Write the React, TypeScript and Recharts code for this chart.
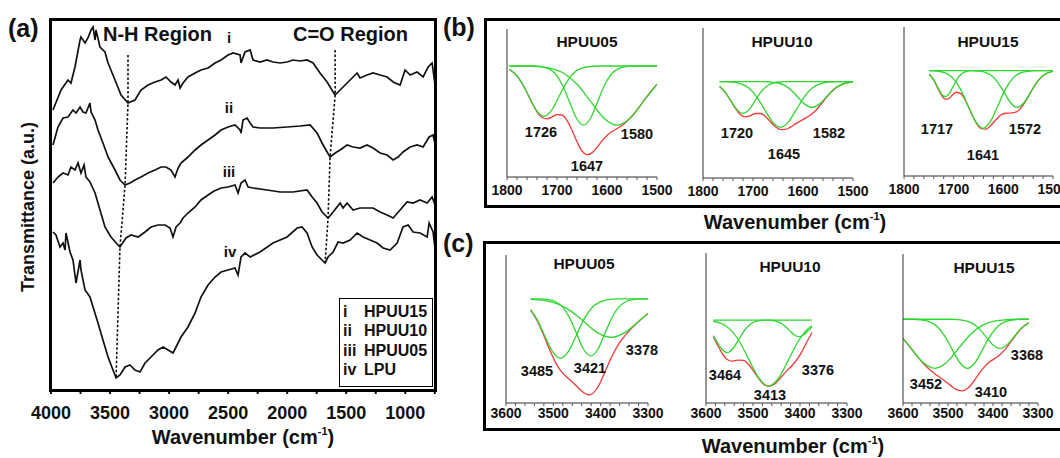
import { Line, LineChart, XAxis, YAxis } from 'recharts';

const FONT = "'Liberation Sans', Arial, Helvetica, sans-serif";
const INK = '#111';
const FIT_RED = '#ee3a3a';
const FIT_GREEN = '#30d630';

type Pt = [number, number];

// (a) FTIR spectra: [wavenumber cm-1, transmittance a.u. (stacked offsets)]
const SPEC_HPUU15: Pt[] = [
  [3983, 279], [3915, 299], [3856, 309], [3831, 306], [3797, 322], [3754, 349], [3746, 352],
  [3712, 346], [3687, 351], [3661, 359], [3644, 362], [3627, 349], [3619, 359], [3585, 342],
  [3543, 337], [3517, 326], [3458, 309], [3407, 294], [3348, 286], [3289, 289], [3238, 299],
  [3178, 304], [3119, 307], [3068, 309], [3026, 312], [2984, 307], [2950, 304], [2924, 309],
  [2907, 301], [2882, 306], [2840, 312], [2780, 316], [2730, 319], [2670, 321], [2611, 326],
  [2560, 329], [2501, 334], [2458, 336], [2399, 334], [2391, 326], [2357, 337], [2314, 339],
  [2289, 329], [2230, 327], [2171, 329], [2120, 327], [2060, 326], [2001, 327], [1950, 329],
  [1891, 328], [1832, 329], [1781, 326], [1722, 316], [1662, 307], [1611, 297], [1594, 294],
  [1552, 299], [1493, 306], [1442, 312], [1408, 316], [1383, 311], [1324, 314], [1273, 316],
  [1213, 314], [1154, 312], [1103, 307], [1044, 304], [1002, 319], [959, 314], [900, 317],
  [849, 312], [807, 322], [773, 326], [748, 304],
];

const SPEC_HPUU10: Pt[] = [
  [3983, 244], [3941, 262], [3898, 271], [3856, 272], [3814, 279], [3788, 276], [3754, 282],
  [3729, 277], [3704, 276], [3670, 286], [3661, 277], [3627, 269], [3602, 259], [3560, 246],
  [3517, 232], [3458, 219], [3416, 209], [3373, 204], [3331, 206], [3289, 209], [3238, 212],
  [3178, 216], [3119, 219], [3068, 222], [3026, 222], [2984, 219], [2950, 212], [2924, 221],
  [2899, 226], [2840, 232], [2780, 239], [2730, 244], [2670, 249], [2611, 254], [2560, 259],
  [2501, 262], [2442, 264], [2399, 259], [2391, 256], [2374, 269], [2340, 271], [2314, 266],
  [2289, 262], [2230, 261], [2120, 261], [2001, 262], [1891, 263], [1806, 264], [1747, 256],
  [1705, 246], [1662, 237], [1637, 232], [1594, 236], [1552, 239], [1493, 244], [1442, 242],
  [1383, 241], [1324, 244], [1273, 241], [1213, 236], [1154, 234], [1103, 229], [1061, 232],
  [1019, 237], [959, 242], [900, 244], [849, 242], [798, 252], [765, 254], [742, 242],
];

const SPEC_HPUU05: Pt[] = [
  [3983, 206], [3941, 212], [3898, 216], [3856, 214], [3831, 222], [3797, 219], [3771, 226],
  [3746, 216], [3720, 224], [3704, 212], [3670, 207], [3627, 196], [3585, 179], [3543, 162],
  [3492, 152], [3433, 144], [3416, 142], [3365, 151], [3322, 154], [3263, 152], [3204, 157],
  [3153, 162], [3094, 164], [3034, 164], [2992, 161], [2967, 152], [2941, 162], [2907, 166],
  [2882, 171], [2840, 176], [2780, 182], [2730, 189], [2670, 194], [2619, 198], [2560, 201],
  [2501, 202], [2442, 204], [2416, 196], [2391, 206], [2357, 209], [2331, 202], [2289, 201],
  [2171, 199], [2060, 197], [1950, 197], [1832, 199], [1789, 192], [1747, 186], [1705, 177],
  [1654, 171], [1611, 177], [1552, 186], [1527, 181], [1493, 186], [1442, 179], [1383, 181],
  [1324, 181], [1273, 181], [1213, 177], [1154, 174], [1103, 171], [1044, 179], [985, 187],
  [934, 186], [875, 189], [815, 186], [773, 192], [748, 184],
];

const SPEC_LPU: Pt[] = [
  [3983, 157], [3958, 154], [3924, 142], [3898, 146], [3881, 139], [3873, 156], [3839, 137],
  [3814, 129], [3788, 106], [3754, 129], [3746, 119], [3712, 99], [3670, 92], [3644, 82],
  [3602, 66], [3560, 49], [3517, 32], [3475, 19], [3449, 11], [3416, 14], [3373, 22],
  [3331, 24], [3289, 19], [3246, 17], [3204, 26], [3153, 32], [3094, 39], [3051, 42],
  [3009, 39], [2967, 36], [2941, 42], [2899, 52], [2840, 62], [2780, 76], [2730, 92],
  [2670, 104], [2611, 112], [2560, 117], [2501, 119], [2442, 121], [2416, 114], [2391, 132],
  [2357, 136], [2314, 132], [2230, 137], [2120, 146], [2001, 152], [1916, 161], [1874, 162],
  [1832, 156], [1789, 142], [1747, 134], [1705, 129], [1679, 126], [1654, 132], [1611, 137],
  [1569, 147], [1527, 146], [1467, 149], [1408, 156], [1357, 152], [1298, 149], [1239, 146],
  [1188, 141], [1129, 139], [1069, 146], [1019, 162], [976, 164], [934, 157], [875, 156],
  [815, 152], [798, 166], [765, 157], [742, 134],
];

// dotted guides through the N-H and C=O minima
const NH_GUIDE: Pt[] = [[3348, 334], [3348, 286], [3373, 204], [3416, 142], [3449, 11]];
const CO_GUIDE: Pt[] = [[1594, 339], [1594, 294], [1637, 232], [1654, 171], [1679, 126]];

const A_TICKS = [4000, 3750, 3500, 3250, 3000, 2750, 2500, 2250, 2000, 1750, 1500, 1250, 1000, 750];

// (b) C=O region deconvolution: summed fit + component bands
const CO_05_PEAKS = [1726, 1647, 1580];
const CO_05_SUM: Pt[] = [
  [1795, 72.6], [1780, 68.3], [1765, 60.3], [1750, 50.1], [1740, 44.0], [1730, 40.2], [1720, 39.3],
  [1710, 40.6], [1700, 42.2], [1690, 41.9], [1680, 38.2], [1670, 31.6], [1660, 23.8], [1650, 17.6],
  [1640, 15.1], [1630, 16.3], [1620, 20.0], [1610, 24.4], [1600, 28.1], [1590, 30.7], [1580, 32.7],
  [1570, 34.8], [1560, 37.6], [1545, 43.1], [1530, 49.8], [1515, 56.7], [1500, 62.7],
];
const CO_05_1726: Pt[] = [
  [1795, 72.6], [1786, 70.4], [1771, 64.0], [1756, 54.4], [1741, 45.0], [1726, 41.0], [1711, 45.0],
  [1696, 54.4], [1681, 64.0], [1666, 70.4], [1651, 73.5], [1636, 74.6], [1621, 75], [1500, 75],
];
const CO_05_1647: Pt[] = [
  [1795, 75], [1745, 75], [1731, 74.6], [1717, 73.2], [1703, 69.6], [1689, 62.0], [1675, 50.7],
  [1661, 39.7], [1647, 35.0], [1633, 39.7], [1619, 50.7], [1605, 62.0], [1591, 69.6], [1577, 73.2],
  [1563, 74.6], [1549, 75], [1500, 75],
];
const CO_05_1580: Pt[] = [
  [1795, 75], [1762, 75], [1736, 74.6], [1710, 73.2], [1684, 69.6], [1658, 62.0], [1632, 50.7],
  [1606, 39.7], [1580, 35.0], [1554, 39.7], [1528, 50.7], [1500, 62.7],
];

const CO_10_PEAKS = [1720, 1645, 1582];
const CO_10_SUM: Pt[] = [
  [1767, 61.1], [1755, 56.8], [1745, 51.7], [1735, 46.3], [1725, 42.2], [1715, 40.8], [1705, 41.6],
  [1695, 43.0], [1685, 43.0], [1675, 40.9], [1665, 37.5], [1655, 34.1], [1645, 32.3], [1635, 32.4],
  [1625, 33.9], [1615, 36.1], [1605, 38.1], [1595, 39.9], [1585, 42.0], [1575, 44.8], [1565, 48.7],
  [1555, 52.9], [1545, 56.8], [1530, 61.1], [1515, 63.2], [1500, 64.0],
];
const CO_10_1720: Pt[] = [
  [1767, 61.1], [1756, 57.4], [1744, 51.4], [1732, 45.6], [1720, 43.1], [1708, 45.6], [1696, 51.4],
  [1684, 57.4], [1672, 61.4], [1660, 63.3], [1648, 64.0], [1636, 64.2], [1500, 64.2],
];
const CO_10_1645: Pt[] = [
  [1767, 64.2], [1757, 64.2], [1741, 63.9], [1725, 62.9], [1709, 60.1], [1693, 54.3], [1677, 45.8],
  [1661, 37.4], [1645, 33.8], [1629, 37.4], [1613, 45.8], [1597, 54.3], [1581, 60.1], [1565, 62.9],
  [1549, 63.9], [1533, 64.2], [1500, 64.2],
];
const CO_10_1582: Pt[] = [
  [1767, 64.2], [1680, 64.2], [1666, 64.0], [1652, 63.5], [1638, 61.9], [1624, 58.7], [1610, 53.8],
  [1596, 49.1], [1582, 47.1], [1568, 49.1], [1554, 53.8], [1540, 58.7], [1526, 61.9], [1512, 63.5],
  [1500, 64.0],
];

const CO_15_PEAKS = [1717, 1641, 1572];
const CO_15_SUM: Pt[] = [
  [1749, 68.3], [1740, 64.3], [1732, 59.0], [1725, 54.5], [1717, 51.6], [1710, 52.0], [1703, 54.2],
  [1695, 56.2], [1685, 55.1], [1675, 49.7], [1665, 42.5], [1655, 35.8], [1645, 31.9], [1635, 31.5],
  [1625, 34.0], [1615, 37.8], [1605, 40.9], [1595, 42.1], [1585, 42.2], [1575, 42.8], [1565, 45.4],
  [1555, 50.2], [1545, 56.1], [1530, 64.0], [1515, 68.5], [1500, 70.2],
];
const CO_15_1717: Pt[] = [
  [1749, 68.3], [1741, 65.0], [1733, 60.1], [1725, 55.3], [1717, 53.2], [1709, 55.3], [1701, 60.1],
  [1693, 65.0], [1685, 68.3], [1677, 69.9], [1669, 70.5], [1661, 70.7], [1500, 70.7],
];
const CO_15_1641: Pt[] = [
  [1749, 70.7], [1731, 70.3], [1716, 69.0], [1701, 65.5], [1686, 58.1], [1671, 47.2], [1656, 36.6],
  [1641, 32.0], [1626, 36.6], [1611, 47.2], [1596, 58.1], [1581, 65.5], [1566, 69.0], [1551, 70.3],
  [1536, 70.7], [1500, 70.7],
];
const CO_15_1572: Pt[] = [
  [1749, 70.7], [1663, 70.7], [1650, 70.4], [1637, 69.6], [1624, 67.4], [1611, 62.7], [1598, 55.8],
  [1585, 49.0], [1572, 46.1], [1559, 49.0], [1546, 55.8], [1533, 62.7], [1520, 67.4], [1507, 69.6],
  [1500, 70.2],
];

// (c) N-H region deconvolution
const NH_05_PEAKS = [3485, 3421, 3378];
const NH_05_SUM: Pt[] = [
  [3548, 62.8], [3535, 56.2], [3520, 45.5], [3505, 33.9], [3495, 27.1], [3485, 22.1], [3475, 18.5],
  [3465, 15.7], [3455, 12.7], [3445, 9.5], [3435, 6.8], [3425, 5.4], [3415, 7.0], [3405, 11.3],
  [3395, 18.0], [3385, 25.4], [3375, 32.3], [3360, 40.8], [3345, 46.9], [3330, 52.0], [3315, 56.4],
  [3300, 60.5],
];
const NH_05_3485: Pt[] = [
  [3548, 63.1], [3536, 57.3], [3519, 46.0], [3502, 34.9], [3485, 30.2], [3468, 34.9], [3451, 46.0],
  [3434, 57.3], [3417, 64.9], [3400, 68.5], [3383, 69.9], [3366, 70.3], [3300, 70.3],
];
const NH_05_3421: Pt[] = [
  [3548, 70.3], [3526, 70.3], [3511, 69.9], [3496, 68.6], [3481, 65.1], [3466, 57.8], [3451, 47.0],
  [3436, 36.3], [3421, 31.8], [3406, 36.3], [3391, 47.0], [3376, 57.8], [3361, 65.1], [3346, 68.6],
  [3331, 69.9], [3316, 70.3], [3300, 70.3],
];
const NH_05_3378: Pt[] = [
  [3548, 70.0], [3518, 69.2], [3490, 66.8], [3462, 61.9], [3434, 54.6], [3406, 47.4], [3378, 44.4],
  [3350, 47.4], [3322, 54.6], [3300, 60.5],
];

const NH_10_PEAKS = [3464, 3413, 3376];
const NH_10_SUM: Pt[] = [
  [3481, 44.1], [3475, 37.8], [3469, 32.0], [3464, 29.0], [3458, 27.9], [3451, 28.6], [3444, 28.4],
  [3437, 25.2], [3430, 20.0], [3423, 14.7], [3418, 12.1], [3413, 11.2], [3408, 11.9], [3402, 14.6],
  [3396, 18.3], [3390, 21.9], [3384, 25.2], [3378, 29.2], [3372, 34.6], [3366, 41.0], [3360, 46.9],
];
const NH_10_3464: Pt[] = [
  [3481, 44.9], [3478, 42.1], [3471, 36.2], [3464, 33.6], [3457, 36.2], [3450, 42.1], [3443, 48.3],
  [3436, 52.4], [3429, 54.4], [3422, 55.1], [3415, 55.3], [3360, 55.3],
];
const NH_10_3413: Pt[] = [
  [3481, 54.5], [3473, 53.4], [3461, 49.4], [3449, 41.0], [3437, 28.6], [3425, 16.5], [3413, 11.3],
  [3401, 16.5], [3389, 28.6], [3377, 41.0], [3365, 49.4], [3360, 51.5],
];
const NH_10_3376: Pt[] = [
  [3481, 55.3], [3418, 55.3], [3412, 55.2], [3406, 54.8], [3400, 53.8], [3394, 51.7], [3388, 48.6],
  [3382, 45.5], [3376, 44.2], [3370, 45.5], [3364, 48.6], [3360, 50.7],
];

const NH_15_PEAKS = [3452, 3410, 3368];
const NH_15_SUM: Pt[] = [
  [3493, 43.3], [3485, 38.2], [3477, 32.8], [3469, 27.8], [3461, 23.5], [3452, 19.7], [3445, 17.1],
  [3438, 14.3], [3431, 11.5], [3424, 9.0], [3417, 8.1], [3410, 9.7], [3403, 13.6], [3396, 18.9],
  [3389, 23.7], [3382, 27.3], [3375, 29.8], [3368, 32.4], [3360, 36.8], [3352, 42.5], [3344, 48.0],
  [3337, 51.7], [3331, 53.8],
];
const NH_15_3452: Pt[] = [
  [3493, 43.3], [3482, 36.3], [3467, 27.2], [3452, 23.3], [3437, 27.2], [3422, 36.3], [3407, 45.5],
  [3392, 51.8], [3377, 54.8], [3362, 55.8], [3347, 56.2], [3331, 56.2],
];
const NH_15_3410: Pt[] = [
  [3493, 56.2], [3480, 56.2], [3470, 55.8], [3460, 54.8], [3450, 51.8], [3440, 45.5], [3430, 36.3],
  [3420, 27.2], [3410, 23.3], [3400, 27.2], [3390, 36.3], [3380, 45.5], [3370, 51.8], [3360, 54.8],
  [3350, 55.8], [3340, 56.2], [3331, 56.2],
];
const NH_15_3368: Pt[] = [
  [3493, 56.2], [3431, 56.2], [3422, 56.0], [3413, 55.3], [3404, 53.6], [3395, 49.9], [3386, 44.4],
  [3377, 39.0], [3368, 36.7], [3359, 39.0], [3350, 44.4], [3341, 49.9], [3331, 53.8],
];

const CO_TICKS = [1800, 1780, 1760, 1740, 1720, 1700, 1680, 1660, 1640, 1620, 1600, 1580, 1560, 1540, 1520, 1500];
const NH_TICKS = [3600, 3580, 3560, 3540, 3520, 3500, 3480, 3460, 3440, 3420, 3400, 3380, 3360, 3340, 3320, 3300];
const FIT_Y_TICKS = [0, 16.67, 33.33, 50, 66.67, 83.33, 100];

const rows = (pts: Pt[]) => pts.map(([w, v]) => ({ w, v }));

interface FitSpec {
  title: string;
  box: [number, number, number, number]; // plot area x, y, w, h
  tickDomain: [number, number];
  fitDomain?: [number, number]; // the insets were fitted on their own wavenumber window
  ticks: number[];
  tickMargin: number;
  sum: Pt[];
  parts: Pt[][];
  peaks: number[];
  titlePos: [number, number];
  peakPos: [number, number][];
}

const FIT_PANELS: FitSpec[] = [
  {
    title: 'HPUU05', box: [507, 29, 150, 148], tickDomain: [1500, 1800], ticks: CO_TICKS, tickMargin: 5,
    sum: CO_05_SUM, parts: [CO_05_1726, CO_05_1647, CO_05_1580], peaks: CO_05_PEAKS,
    titlePos: [587, 47], peakPos: [[541, 137], [587, 171], [637, 139]],
  },
  {
    title: 'HPUU10', box: [703, 28, 150, 150], tickDomain: [1500, 1800], ticks: CO_TICKS, tickMargin: 5,
    sum: CO_10_SUM, parts: [CO_10_1720, CO_10_1645, CO_10_1582], peaks: CO_10_PEAKS,
    titlePos: [782, 47], peakPos: [[737, 138], [784, 159], [829, 138]],
  },
  {
    title: 'HPUU15', box: [904, 27, 149, 149], tickDomain: [1500, 1800], ticks: CO_TICKS, tickMargin: 5,
    sum: CO_15_SUM, parts: [CO_15_1717, CO_15_1641, CO_15_1572], peaks: CO_15_PEAKS,
    titlePos: [988, 47], peakPos: [[937, 134], [983, 160], [1025, 134]],
  },
  {
    title: 'HPUU05', box: [506, 255, 142, 148], tickDomain: [3300, 3600], ticks: NH_TICKS, tickMargin: 2,
    sum: NH_05_SUM, parts: [NH_05_3485, NH_05_3421, NH_05_3378], peaks: NH_05_PEAKS,
    titlePos: [584, 269], peakPos: [[537, 376], [590, 373], [642, 355]],
  },
  {
    title: 'HPUU10', box: [706, 253, 141, 150], tickDomain: [3300, 3600], fitDomain: [3317, 3490], ticks: NH_TICKS, tickMargin: 2,
    sum: NH_10_SUM, parts: [NH_10_3464, NH_10_3413, NH_10_3376], peaks: NH_10_PEAKS,
    titlePos: [790, 272], peakPos: [[725, 380], [770, 400], [818, 375]],
  },
  {
    title: 'HPUU15', box: [903, 254, 135, 149], tickDomain: [3300, 3600], fitDomain: [3319, 3493], ticks: NH_TICKS, tickMargin: 2,
    sum: NH_15_SUM, parts: [NH_15_3452, NH_15_3410, NH_15_3368], peaks: NH_15_PEAKS,
    titlePos: [984, 273], peakPos: [[926, 389], [991, 397], [1027, 360]],
  },
];

const tickFont = { fontFamily: FONT, fontWeight: 700, fill: INK };

function FitPanel({ spec }: { spec: FitSpec }) {
  const [x, y, w, h] = spec.box;
  const padL = 20;
  const padR = 22;
  const padT = 2;
  const axisH = 26;
  const xId = spec.fitDomain ? 'fit' : 'ticks';
  return (
    <div style={{ position: 'absolute', left: x - padL, top: y - padT }}>
      <LineChart width={padL + w + padR} height={padT + h + axisH} margin={{ top: padT, right: padR, bottom: 0, left: 0 }}>
        <XAxis
          xAxisId="ticks"
          type="number"
          dataKey="w"
          domain={spec.tickDomain}
          reversed
          allowDataOverflow
          ticks={spec.ticks}
          interval={0}
          tickFormatter={(v: number) => (v % 100 === 0 ? String(v) : '')}
          tickSize={3}
          tickMargin={spec.tickMargin}
          height={axisH}
          axisLine={{ stroke: '#333', strokeWidth: 1 }}
          tickLine={{ stroke: '#555', strokeWidth: 1 }}
          tick={{ ...tickFont, fontSize: 14 }}
        />
        {spec.fitDomain && (
          <XAxis
            xAxisId="fit"
            orientation="top"
            height={0}
            type="number"
            dataKey="w"
            domain={spec.fitDomain}
            reversed
            allowDataOverflow
            hide
          />
        )}
        <YAxis
          type="number"
          domain={[0, 100]}
          allowDataOverflow
          ticks={FIT_Y_TICKS}
          width={padL}
          tick={false}
          tickSize={3}
          axisLine={{ stroke: '#333', strokeWidth: 1 }}
          tickLine={{ stroke: '#555', strokeWidth: 1 }}
        />
        <Line
          xAxisId={xId}
          data={rows(spec.sum)}
          dataKey="v"
          type="monotone"
          stroke={FIT_RED}
          strokeWidth={1.3}
          dot={false}
          isAnimationActive={false}
        />
        {spec.parts.map((part, i) => (
          <Line
            key={i}
            xAxisId={xId}
            data={rows(part)}
            dataKey="v"
            type="monotone"
            stroke={FIT_GREEN}
            strokeWidth={1.3}
            dot={false}
            isAnimationActive={false}
          />
        ))}
      </LineChart>
    </div>
  );
}

function SpectraPanel() {
  const spectra = [SPEC_HPUU15, SPEC_HPUU10, SPEC_HPUU05, SPEC_LPU];
  return (
    <div style={{ position: 'absolute', left: 0, top: 0 }}>
      <LineChart width={440} height={458} margin={{ top: 20, right: 4, bottom: 0, left: 51 }}>
        <XAxis
          type="number"
          dataKey="w"
          domain={[740, 4000]}
          reversed
          allowDataOverflow
          ticks={A_TICKS}
          interval={0}
          tickFormatter={(v: number) => (v % 500 === 0 ? String(v) : '')}
          axisLine={false}
          tickSize={5}
          tickMargin={12}
          height={69}
          tickLine={{ stroke: INK, strokeWidth: 2 }}
          tick={{ ...tickFont, fontSize: 18 }}
        />
        <YAxis hide type="number" domain={[0, 369]} allowDataOverflow />
        {spectra.map((s, i) => (
          <Line
            key={i}
            data={rows(s)}
            dataKey="v"
            type="linear"
            stroke={INK}
            strokeWidth={1.7}
            dot={false}
            isAnimationActive={false}
          />
        ))}
        {[NH_GUIDE, CO_GUIDE].map((g, i) => (
          <Line
            key={`g${i}`}
            data={rows(g)}
            dataKey="v"
            type="linear"
            stroke={INK}
            strokeWidth={1.6}
            strokeDasharray="2.5 2"
            dot={false}
            isAnimationActive={false}
          />
        ))}
      </LineChart>
    </div>
  );
}

function AxisTitle({ x, y }: { x: number; y: number }) {
  return (
    <text x={x} y={y} fontSize={20} textAnchor="middle">
      Wavenumber (cm<tspan fontSize={11} dy={-9}>-1</tspan>
      <tspan dy={9}>)</tspan>
    </text>
  );
}

const frame = (left: number, top: number, width: number, height: number, bw: number) => ({
  position: 'absolute' as const,
  left,
  top,
  width,
  height,
  border: `${bw}px solid #000`,
  boxSizing: 'border-box' as const,
});

const LEGEND_ROWS = [
  ['i', 'HPUU15'],
  ['ii', 'HPUU10'],
  ['iii', 'HPUU05'],
  ['iv', 'LPU'],
];

export default function App() {
  return (
    <div style={{ position: 'absolute', left: 0, top: 0, width: 1060, height: 458, overflow: 'hidden', background: '#fff' }}>
      <SpectraPanel />
      {FIT_PANELS.map((p, i) => (
        <FitPanel key={i} spec={p} />
      ))}

      <div style={frame(49, 18, 388, 373.5, 3.5)} />
      <div style={frame(339, 297.5, 93.5, 89.5, 1.5)} />
      <div style={frame(484, 17.5, 640, 190, 3.5)} />
      <div style={frame(483, 240.5, 640, 190, 3.5)} />

      <svg
        width={1060}
        height={458}
        style={{ position: 'absolute', left: 0, top: 0, pointerEvents: 'none' }}
        fontFamily={FONT}
        fontWeight={700}
        fill={INK}
      >
        <text x={8} y={37} fontSize={25}>(a)</text>
        <text x={443} y={36} fontSize={25}>(b)</text>
        <text x={443} y={252} fontSize={25}>(c)</text>

        <text x={103} y={41} fontSize={20}>N-H Region</text>
        <text x={293} y={41} fontSize={20}>C=O Region</text>
        <text x={229} y={43} fontSize={15} textAnchor="middle">i</text>
        <text x={229} y={113} fontSize={15} textAnchor="middle">ii</text>
        <text x={229} y={177} fontSize={15} textAnchor="middle">iii</text>
        <text x={230} y={257} fontSize={15} textAnchor="middle">iv</text>

        {LEGEND_ROWS.map(([num, name], i) => (
          <g key={name}>
            <text x={343} y={317 + i * 19.3} fontSize={16}>{num}</text>
            <text x={364} y={317 + i * 19.3} fontSize={16}>{name}</text>
          </g>
        ))}

        <text x={28} y={207} fontSize={18} textAnchor="middle" dominantBaseline="central" transform="rotate(-90 28 207)">
          Transmittance (a.u.)
        </text>
        <AxisTitle x={243} y={444} />
        <AxisTitle x={795} y={229} />
        <AxisTitle x={793} y={453} />

        {FIT_PANELS.map((p, i) => (
          <g key={i}>
            <text x={p.titlePos[0]} y={p.titlePos[1]} fontSize={15.5} textAnchor="middle">{p.title}</text>
            {p.peaks.map((pk, j) => (
              <text key={pk} x={p.peakPos[j][0]} y={p.peakPos[j][1]} fontSize={14.5} textAnchor="middle">
                {pk}
              </text>
            ))}
          </g>
        ))}
      </svg>
    </div>
  );
}
